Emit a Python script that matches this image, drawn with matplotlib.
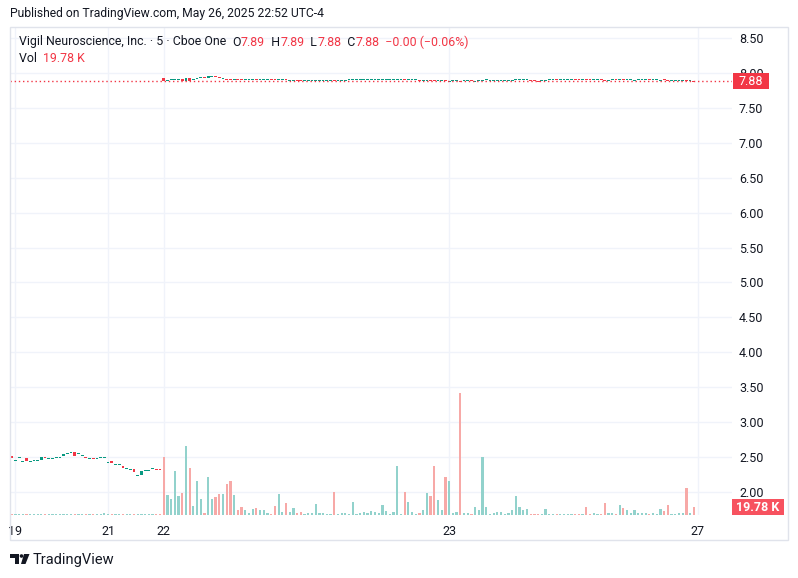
import matplotlib
matplotlib.use("Agg")
import matplotlib.pyplot as plt
from matplotlib.patches import Rectangle, Polygon, Circle
import numpy as np

plt.rcParams["font.family"] = ["Roboto", "DejaVu Sans"]

# 5-minute bars. Volume in thousands of shares.
# May 16 - May 21 (thin trading)
open_pre = [2.51, 2.45, 2.50, 2.44, 2.48, 2.435, 2.45, 2.45, 2.46, 2.50,
            2.48, 2.48, 2.50, 2.50, 2.52, 2.55, 2.57, 2.57, 2.55, 2.52,
            2.50, 2.48, 2.48, 2.48, 2.50, 2.50, 2.425, 2.45, 2.40, 2.40,
            2.37, 2.34, 2.325, 2.33, 2.24, 2.25, 2.31, 2.31, 2.34, 2.325,
            2.325]
close_pre = [2.49, 2.45, 2.50, 2.44, 2.45, 2.45, 2.45, 2.45, 2.50, 2.48,
             2.48, 2.48, 2.50, 2.50, 2.55, 2.55, 2.57, 2.52, 2.55, 2.52,
             2.50, 2.48, 2.48, 2.48, 2.50, 2.50, 2.425, 2.42, 2.40, 2.40,
             2.35, 2.34, 2.325, 2.29, 2.24, 2.30, 2.31, 2.31, 2.34, 2.325,
             2.325]
dir_pre = "duuuduuuud" "uuuuuuuduu" "duduuuuduu" "duuduuuuud" "d"
vol_pre = [2.5, 2.5, 2.5, 2.5, 2.5, 2.5, 2.5, 2.5, 2.5, 2.5,
           2.5, 2.5, 2.5, 2.5, 2.5, 2.5, 2.5, 2.5, 2.5, 2.5,
           2.5, 2.5, 2.5, 2.5, 2.5, 4.9, 2.5, 2.5, 2.5, 2.5,
           2.5, 2.5, 2.5, 2.5, 2.5, 2.5, 2.5, 2.5, 2.5, 2.5,
           2.5]

# May 22
open_22 = [7.92, 7.89, 7.90, 7.91, 7.91, 7.91, 7.89, 7.93, 7.91, 7.91,
           7.93, 7.93, 7.93, 7.95, 7.96, 7.94, 7.92, 7.92, 7.91, 7.91,
           7.91, 7.91, 7.91, 7.91, 7.91, 7.915, 7.91, 7.91, 7.91, 7.91,
           7.91, 7.91, 7.91, 7.91, 7.895, 7.895, 7.895, 7.895, 7.895, 7.895,
           7.895, 7.895, 7.895, 7.895, 7.895, 7.895, 7.90, 7.895, 7.895, 7.895,
           7.90, 7.91, 7.91, 7.91, 7.91, 7.91, 7.91, 7.91, 7.91, 7.905,
           7.91, 7.91, 7.91, 7.905, 7.91, 7.915, 7.91, 7.91, 7.91, 7.90,
           7.895, 7.895, 7.90, 7.90, 7.895, 7.895, 7.90]
close_22 = [7.88, 7.89, 7.90, 7.91, 7.91, 7.89, 7.93, 7.89, 7.91, 7.93,
            7.93, 7.93, 7.95, 7.96, 7.94, 7.92, 7.92, 7.91, 7.91, 7.91,
            7.91, 7.91, 7.91, 7.91, 7.91, 7.91, 7.91, 7.91, 7.91, 7.91,
            7.91, 7.91, 7.91, 7.91, 7.895, 7.895, 7.895, 7.895, 7.895, 7.895,
            7.895, 7.895, 7.895, 7.895, 7.895, 7.895, 7.895, 7.895, 7.895, 7.895,
            7.91, 7.91, 7.91, 7.91, 7.91, 7.91, 7.91, 7.91, 7.91, 7.91,
            7.91, 7.91, 7.91, 7.91, 7.91, 7.91, 7.91, 7.91, 7.91, 7.895,
            7.895, 7.895, 7.895, 7.895, 7.895, 7.895, 7.895]
dir_22 = "duuuududuu" "uduudduddu" "dduuuduuud" "duuduudduu" \
         "uuuuuuduuu" "uuuuuuuuuu" "uuuuuduuud" "uudduud"
vol_22 = [143.3, 49.4, 39.5, 108.7, 46.9, 54.3, 170.4, 116.1, 22.2, 84.0,
          39.5, 4.9, 93.9, 39.5, 44.5, 51.9, 51.9, 76.6, 84.0, 49.4,
          12.4, 19.8, 12.4, 4.9, 14.8, 17.3, 12.4, 12.4, 4.9, 2.5,
          22.2, 51.9, 7.4, 29.6, 7.4, 17.3, 4.9, 7.4, 2.5, 4.9,
          4.9, 27.2, 4.9, 4.9, 2.5, 2.5, 56.8, 2.5, 4.9, 4.9,
          2.5, 32.1, 2.5, 4.9, 7.4, 4.9, 9.9, 7.4, 4.9, 24.7,
          9.9, 2.5, 7.4, 121.0, 2.5, 56.8, 32.1, 7.4, 2.5, 4.9,
          12.4, 54.3, 46.9, 121.0, 37.1, 12.4, 93.9]

# May 23
open_23 = [7.88, 7.89, 7.89, 7.89, 7.885, 7.885, 7.885, 7.88, 7.89, 7.88,
           7.90, 7.89, 7.89, 7.89, 7.89, 7.885, 7.885, 7.885, 7.90, 7.91,
           7.90, 7.90, 7.90, 7.89, 7.89, 7.89, 7.89, 7.90, 7.90, 7.90,
           7.895, 7.905, 7.905, 7.905, 7.905, 7.90, 7.90, 7.91, 7.90, 7.90,
           7.90, 7.90, 7.90, 7.89, 7.90, 7.90, 7.90, 7.91, 7.90, 7.90,
           7.895, 7.905, 7.905, 7.90, 7.90, 7.90, 7.90, 7.895, 7.905, 7.90,
           7.89, 7.89, 7.89, 7.89, 7.90, 7.885, 7.89]
close_23 = [7.89, 7.89, 7.89, 7.88, 7.885, 7.885, 7.885, 7.89, 7.89, 7.90,
            7.90, 7.89, 7.89, 7.89, 7.89, 7.885, 7.885, 7.90, 7.91, 7.91,
            7.90, 7.90, 7.89, 7.89, 7.88, 7.89, 7.90, 7.90, 7.90, 7.90,
            7.91, 7.905, 7.905, 7.905, 7.905, 7.90, 7.91, 7.90, 7.90, 7.90,
            7.90, 7.90, 7.89, 7.90, 7.90, 7.90, 7.91, 7.90, 7.90, 7.90,
            7.905, 7.905, 7.905, 7.90, 7.90, 7.90, 7.90, 7.905, 7.90, 7.89,
            7.89, 7.89, 7.89, 7.89, 7.885, 7.89, 7.88]
dir_23 = "uuuduuduuu" "uuuuuuuuuu" "uuddduuuud" "uuuudduddu" \
         "udduududuu" "uuuuduuudd" "uuuudud"
vol_23 = [84.0, 4.9, 7.4, 301.3, 4.9, 4.9, 2.5, 19.8, 12.4, 143.3,
          19.8, 2.5, 4.9, 7.4, 7.4, 2.5, 4.9, 12.4, 46.9, 19.8,
          12.4, 14.8, 2.5, 2.5, 2.5, 2.5, 14.8, 2.5, 2.5, 2.5,
          2.5, 2.5, 2.5, 2.5, 2.5, 2.5, 2.5, 19.8, 2.5, 4.9,
          2.5, 2.5, 29.6, 4.9, 4.9, 2.5, 24.7, 17.3, 12.4, 4.9,
          12.4, 4.9, 4.9, 4.9, 2.5, 4.9, 2.5, 14.8, 9.9, 24.7,
          2.5, 2.5, 4.9, 4.9, 66.7, 4.9, 19.78]

day_ticks = [1, 26, 41, 118, 185]
day_labels = ["19", "21", "22", "23", "27"]
price_ticks = [2.0, 2.5, 3.0, 3.5, 4.0, 4.5, 5.0, 5.5, 6.0, 6.5, 7.0, 7.5, 8.0, 8.5]
last_close = 7.88

UP, DOWN = "#089981", "#f23645"
VOL_UP, VOL_DOWN = "#92d2cc", "#f7a9a7"
TEXT = "#131722"

opens = np.array(open_pre + open_22 + open_23)
closes = np.array(close_pre + close_22 + close_23)
dirs = dir_pre + dir_22 + dir_23
vols = np.array(vol_pre + vol_22 + vol_23)
x = np.arange(len(opens))

W, H = 798, 578
fig = plt.figure(figsize=(W / 100, H / 100), dpi=100)


def px_rect(l, t, r, b):
    return [l / W, 1 - b / H, (r - l) / W, (b - t) / H]


ax = fig.add_axes(px_rect(10, 27, 732, 515))
axv = fig.add_axes(px_rect(10, 27, 732, 515), sharex=ax)
axv.patch.set_alpha(0)

ax.set_xlim(-0.46, 194.3)
ax.set_ylim(1.671, 8.657)
axv.set_ylim(0, 1205)

ax.grid(True, color="#f0f3fa", lw=1)
ax.set_axisbelow(True)
for a in (ax, axv):
    for s in a.spines.values():
        s.set_visible(False)
axv.set_yticks([])
axv.tick_params(axis="x", bottom=False, labelbottom=False)

# candles (no wicks visible at this scale; keep a 1px minimum body)
flat = np.abs(closes - opens) < 0.015
body_lo = np.minimum(opens, closes) - np.where(flat, 0.0075, 0)
body_h = np.maximum(np.abs(closes - opens), 0.015)
cols = [UP if d == "u" else DOWN for d in dirs]
ax.bar(x, body_h, bottom=body_lo, width=0.75, color=cols, linewidth=0)

# volume
vcols = [VOL_UP if d == "u" else VOL_DOWN for d in dirs]
axv.bar(x, vols, width=0.6, color=vcols, linewidth=0)

ax.axhline(last_close, color=DOWN, lw=1, ls=(0, (1, 2)))

ax.yaxis.tick_right()
ax.set_yticks(price_ticks)
ax.set_yticklabels([f"{p:.2f}" for p in price_ticks])
ax.set_xticks(day_ticks)
ax.set_xticklabels(day_labels)
ax.tick_params(axis="y", length=0, pad=5, labelsize=9, labelcolor=TEXT)
ax.tick_params(axis="x", length=0, pad=7, labelsize=9, labelcolor=TEXT)

# overlay in pixel coordinates for header, tags and logo
ov = fig.add_axes([0, 0, 1, 1])
ov.set_xlim(0, W)
ov.set_ylim(H, 0)
ov.axis("off")
ov.patch.set_alpha(0)

ov.add_patch(Rectangle((9.5, 26.5), 778, 513.5, fill=False, ec="#e0e3eb", lw=1))

ov.text(10, 13, "Published on TradingView.com, May 26, 2025 22:52 UTC-4",
        size=8.7, color=TEXT, va="center")

renderer = fig.canvas.get_renderer()


def text_run(x0, y0, parts, size=8.9):
    for s, c in parts:
        t = ov.text(x0, y0, s, size=size, color=c, va="center")
        x0 += t.get_window_extent(renderer).width


text_run(19, 42, [("Vigil Neuroscience, Inc. · 5 · Cboe One  ", TEXT),
                  ("O", TEXT), ("7.89", DOWN), ("  H", TEXT), ("7.89", DOWN),
                  ("  L", TEXT), ("7.88", DOWN), ("  C", TEXT), ("7.88", DOWN),
                  ("  \u22120.00 (\u22120.06%)", DOWN)])
text_run(19, 59, [("Vol  ", TEXT), ("19.78 K", DOWN)])

# last price / last volume tags (the price tag sits over the 8.00 label, as in the original)
ov.add_patch(Rectangle((733, 73), 36, 16, color=DOWN, lw=0))
ov.text(751, 81.5, f"{last_close:.2f}", color="white", size=9, ha="center", va="center")
ov.add_patch(Rectangle((732, 499), 52, 16, color="#f7525f", lw=0))
ov.text(758, 507.5, "19.78 K", color="white", size=9, ha="center", va="center",
        fontweight="bold")

# TradingView logo
ov.add_patch(Polygon([(10, 554), (19, 554), (19, 564), (15, 564), (15, 558), (10, 558)],
                     color=TEXT, lw=0))
ov.add_patch(Circle((21.5, 556), 1.8, color=TEXT, lw=0))
ov.add_patch(Polygon([(24, 554), (29.5, 554), (25.5, 564), (21, 564)], color=TEXT, lw=0))
ov.text(33, 560, "TradingView", size=10.5, color=TEXT, va="center")

fig.savefig("out.png", dpi=100)
